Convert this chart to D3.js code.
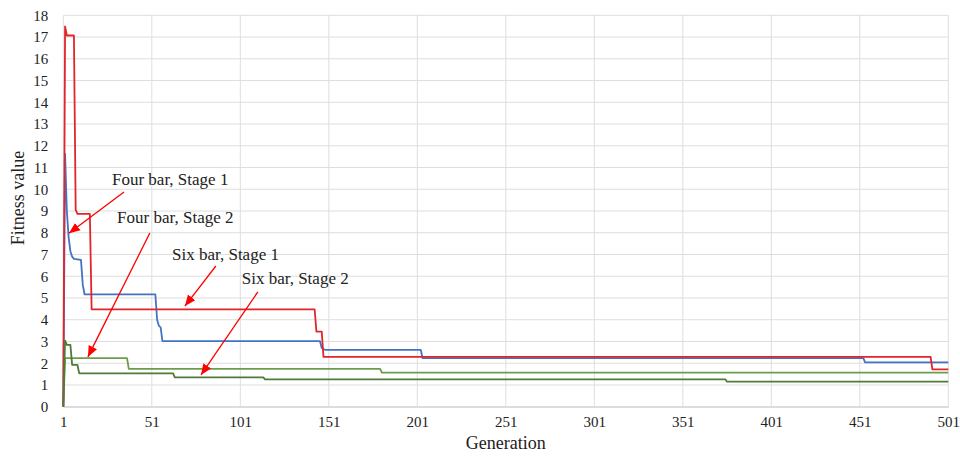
<!DOCTYPE html>
<html>
<head>
<meta charset="utf-8">
<script src="https://cdn.jsdelivr.net/npm/d3@7"></script>
<style>
  body { margin: 0; background: #fff; }
  svg text { font-family: "Liberation Serif", "Times New Roman", serif; fill: #222; }
</style>
</head>
<body>
<svg></svg>
<script>
// Data (generation -> fitness value, breakpoints of step curves)
const fourBarS1Gen = [1, 2, 3, 4, 5, 6, 7, 11, 12, 13, 53, 54, 55, 56, 57, 146, 147, 149, 203, 204, 453, 454, 501];
const fourBarS1Val = [0, 11.63, 9.0, 7.8, 7.15, 6.9, 6.8, 6.75, 5.6, 5.17, 5.17, 4.0, 3.72, 3.65, 3.02, 3.02, 2.7, 2.61, 2.61, 2.23, 2.23, 2.04, 2.04];

const fourBarS2Gen = [1, 2, 37, 38, 180, 181, 501];
const fourBarS2Val = [0, 2.23, 2.23, 1.74, 1.74, 1.57, 1.57];

const sixBarS1Gen = [1, 2, 3, 7, 8, 9, 16, 17, 143, 144, 147, 148, 491, 492, 501];
const sixBarS1Val = [0, 17.49, 17.07, 17.07, 9.05, 8.87, 8.87, 4.48, 4.48, 3.45, 3.45, 2.29, 2.29, 1.72, 1.72];

const sixBarS2Gen = [1, 2, 3, 5, 6, 9, 10, 63, 64, 114, 115, 375, 376, 501];
const sixBarS2Val = [0, 3.04, 2.84, 2.84, 1.92, 1.92, 1.53, 1.53, 1.35, 1.35, 1.26, 1.26, 1.15, 1.15];

const xTicks = [1, 51, 101, 151, 201, 251, 301, 351, 401, 451, 501];
const yTicks = d3.range(0, 19);

// Annotation labels and arrows (in data units: generation, fitness)
const labelText = ["Four bar, Stage 1", "Four bar, Stage 2", "Six bar, Stage 1", "Six bar, Stage 2"];
const labelPos = [[28.5, 10.2], [31.4, 8.45], [62.4, 6.75], [101.8, 5.64]];
const arrowFrom = [[35.3, 9.87], [49.9, 7.99], [87.2, 6.47], [110.9, 5.28]];
const arrowTo = [[4.2, 7.98], [14.9, 2.29], [69.7, 4.63], [78.8, 1.46]];

// Dimensions and margins
const width = 960, height = 456;
const margin = { top: 15.3, right: 11.7, bottom: 49.3, left: 63.3 };
const innerWidth = width - margin.left - margin.right;
const innerHeight = height - margin.top - margin.bottom;

const svg = d3.select("svg").attr("width", width).attr("height", height);
const g = svg.append("g").attr("transform", `translate(${margin.left},${margin.top})`);

// Scales
const xScale = d3.scaleLinear().domain([1, 501]).range([0, innerWidth]);
const yScale = d3.scaleLinear().domain([0, 18]).range([innerHeight, 0]);

// Grid
g.append("g").selectAll("line")
    .data(yTicks)
    .enter().append("line")
    .attr("x1", 0).attr("x2", innerWidth)
    .attr("y1", d => yScale(d)).attr("y2", d => yScale(d))
    .style("stroke", "#dedede").style("stroke-width", 1);

g.append("g").selectAll("line")
    .data(xTicks)
    .enter().append("line")
    .attr("x1", d => xScale(d)).attr("x2", d => xScale(d))
    .attr("y1", 0).attr("y2", innerHeight)
    .style("stroke", "#dedede").style("stroke-width", 1);

// Axes
const xAxis = g.append("g")
    .attr("transform", `translate(0,${innerHeight})`)
    .call(d3.axisBottom(xScale).tickValues(xTicks).tickSize(0).tickPadding(10));
xAxis.select(".domain").style("stroke", "#cfcfcf");
xAxis.selectAll("text").style("font-size", "15px").style("font-family", "Liberation Serif");

const yAxis = g.append("g")
    .call(d3.axisLeft(yScale).tickValues(yTicks).tickSize(0).tickPadding(15));
yAxis.select(".domain").remove();
yAxis.selectAll("text").style("font-size", "15px").style("font-family", "Liberation Serif");

// Axis titles
svg.append("text")
    .attr("x", margin.left + innerWidth / 2)
    .attr("y", 449)
    .attr("text-anchor", "middle")
    .style("font-size", "18px")
    .text("Generation");

svg.append("text")
    .attr("transform", "translate(24,198) rotate(-90)")
    .attr("text-anchor", "middle")
    .style("font-size", "18px")
    .text("Fitness value");

// Series
const line = d3.line().x(d => xScale(d[0])).y(d => yScale(d[1]));
const series = [
    { gen: fourBarS1Gen, val: fourBarS1Val, color: "#4472c4" },
    { gen: fourBarS2Gen, val: fourBarS2Val, color: "#6d9c4c" },
    { gen: sixBarS1Gen, val: sixBarS1Val, color: "#e0262b" },
    { gen: sixBarS2Gen, val: sixBarS2Val, color: "#4f7b36" }
];
series.forEach(s => {
    g.append("path")
        .datum(d3.zip(s.gen, s.val))
        .attr("fill", "none")
        .attr("stroke", s.color)
        .attr("stroke-width", 1.8)
        .attr("stroke-linejoin", "round")
        .attr("d", line);
});

// Arrow marker
svg.append("defs").append("marker")
    .attr("id", "arrow")
    .attr("viewBox", "0 0 10 10")
    .attr("refX", 10).attr("refY", 5)
    .attr("markerWidth", 11).attr("markerHeight", 11)
    .attr("markerUnits", "userSpaceOnUse")
    .attr("orient", "auto")
    .append("path")
    .attr("d", "M0,0.8 L10,5 L0,9.2 z")
    .style("fill", "#ff0000");

// Annotations
labelText.forEach((t, i) => {
    g.append("text")
        .attr("x", xScale(labelPos[i][0]))
        .attr("y", yScale(labelPos[i][1]))
        .style("font-size", "17px")
        .text(t);
    g.append("line")
        .attr("x1", xScale(arrowFrom[i][0]))
        .attr("y1", yScale(arrowFrom[i][1]))
        .attr("x2", xScale(arrowTo[i][0]))
        .attr("y2", yScale(arrowTo[i][1]))
        .style("stroke", "#ff0000")
        .style("stroke-width", 1.3)
        .attr("marker-end", "url(#arrow)");
});
</script>
</body>
</html>
